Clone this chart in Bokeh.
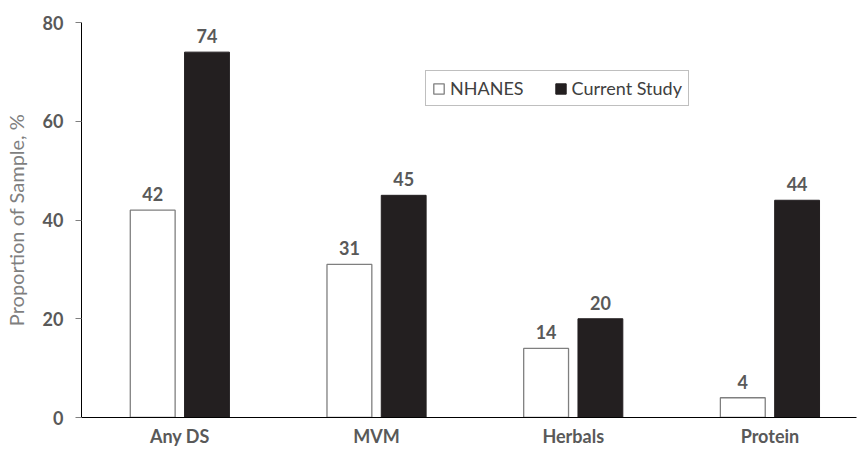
from bokeh.plotting import figure
from bokeh.models import ColumnDataSource, Legend, LegendItem, FixedTicker, LabelSet
from bokeh.core.properties import value
from bokeh.embed import file_html
from bokeh.resources import INLINE

categories = ["Any DS", "MVM", "Herbals", "Protein"]
nhanes = [42, 31, 14, 4]
current = [74, 45, 20, 44]
y_ticks = [0, 20, 40, 60, 80]

centers = [i + 0.5 for i in range(len(categories))]
off = 0.138
bw = 0.228

src_n = ColumnDataSource(dict(x=[c - off for c in centers], top=nhanes, lab=[str(v) for v in nhanes]))
src_c = ColumnDataSource(dict(x=[c + off for c in centers], top=current, lab=[str(v) for v in current]))

p = figure(width=859, height=450, output_backend="svg", toolbar_location=None,
           x_range=(0, 3.94), y_range=(0, 80),
           min_border_left=80, min_border_right=3, min_border_top=22, min_border_bottom=33)
p.outline_line_color = None
p.xgrid.visible = False
p.ygrid.visible = False

rn = p.vbar(x="x", top="top", width=bw, source=src_n, fill_color="white", line_color="#7f7f7f", line_width=1.3)
rc = p.vbar(x="x", top="top", width=bw, source=src_c, fill_color="#231f20", line_color="#231f20")

font = "Lato"
grey = "#595959"
for s in (src_n, src_c):
    p.add_layout(LabelSet(x="x", y="top", text="lab", source=s, text_align="center", text_baseline="bottom",
                          y_offset=9, text_font=value(font), text_font_style="bold", text_font_size="18px",
                          text_color=grey))

p.xaxis.ticker = FixedTicker(ticks=centers)
p.xaxis.major_label_overrides = {c: cat for c, cat in zip(centers, categories)}
p.xaxis.major_tick_line_color = None
p.xaxis.major_tick_out = 0
p.xaxis.major_tick_in = 0
p.xaxis.minor_tick_line_color = None
p.xaxis.axis_line_color = "black"
p.xaxis.major_label_text_font = font
p.xaxis.major_label_text_font_style = "bold"
p.xaxis.major_label_text_font_size = "18px"
p.xaxis.major_label_text_color = grey
p.xaxis.major_label_standoff = 7

p.yaxis.ticker = FixedTicker(ticks=y_ticks)
p.yaxis.minor_tick_line_color = None
p.yaxis.major_tick_in = 0
p.yaxis.major_tick_out = 6
p.yaxis.major_tick_line_color = "#7f7f7f"
p.yaxis.axis_line_color = "black"
p.yaxis.major_label_text_font = font
p.yaxis.major_label_text_font_style = "bold"
p.yaxis.major_label_text_font_size = "18px"
p.yaxis.major_label_text_color = grey
p.yaxis.major_label_standoff = 12
p.yaxis.axis_label = "Proportion of Sample, %"
p.yaxis.axis_label_text_font = font
p.yaxis.axis_label_text_font_style = "normal"
p.yaxis.axis_label_text_font_size = "20px"
p.yaxis.axis_label_text_color = "#7f7f7f"
p.yaxis.axis_label_standoff = 12

legend = Legend(items=[LegendItem(label="NHANES", renderers=[rn]),
                       LegendItem(label="Current Study", renderers=[rc])],
                orientation="horizontal", location=(344, 311),
                glyph_width=13, glyph_height=13, label_text_font=font, label_text_font_size="18px",
                label_text_color="#404040", border_line_color="#7f7f7f", border_line_width=1,
                padding=6, spacing=30, label_standoff=5, margin=0, label_height=15)
p.add_layout(legend, "center")

open("out.html", "w").write(file_html(p, INLINE))
